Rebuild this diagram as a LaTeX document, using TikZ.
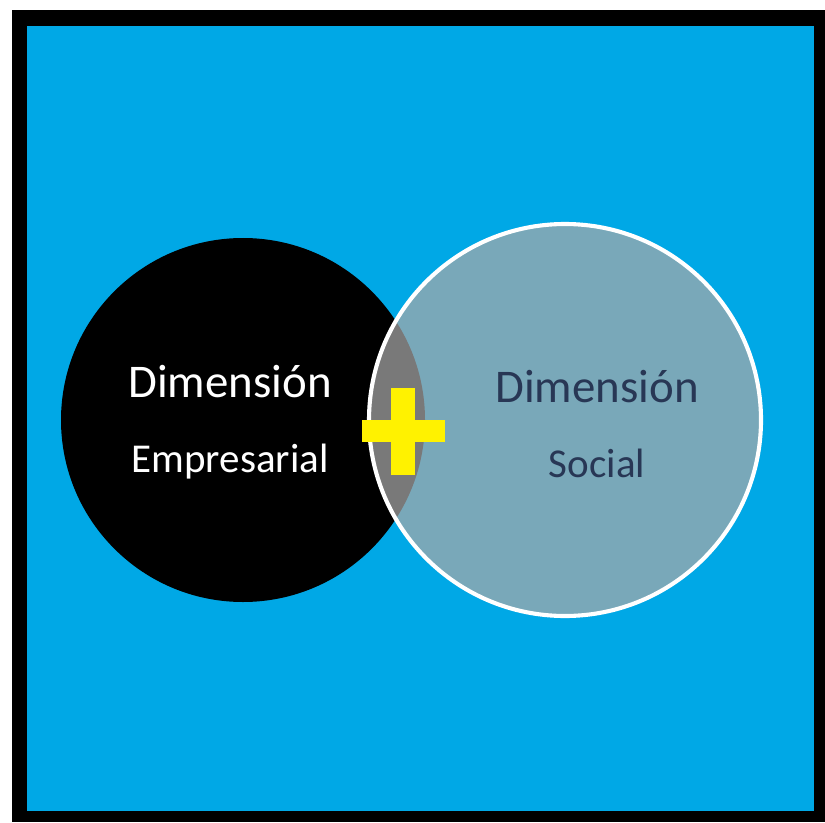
\documentclass[tikz,border=0pt]{standalone}
\usepackage{fontspec}
\setmainfont{Carlito}
\usepackage{xcolor}
\usetikzlibrary{positioning}

\definecolor{skyblue}{RGB}{0,168,230}
\definecolor{socialgrey}{RGB}{168,168,168}
\definecolor{navytext}{RGB}{40,55,85}

\begin{document}
\begin{tikzpicture}[
  x=0.03cm, y=-0.03cm,
  dimcircle/.style={circle, inner sep=0pt},
  dimtext/.style={align=center, inner sep=0pt, font=\fontsize{35}{60}\selectfont},
  plusbar/.style={fill=yellow, draw=none}
  ]
  \useasboundingbox (0,0) rectangle (825,822);
  % frame and background
  \fill[white] (0,0) rectangle (825,822);
  \fill[black] (12,10) rectangle (825,822);
  \fill[skyblue] (27,26) rectangle (814,811);
  % the two dimensions
  \node[dimcircle, fill=black, minimum size=364*0.03cm] (empresa) at (243,420) {};
  \node[dimcircle, fill=socialgrey, fill opacity=0.72, draw=white, line width=3.5pt,
        minimum size=392*0.03cm] (social) at (565,420) {};
  \node[dimtext, text=white] (empresaText) at (230,422)
    {{\fontsize{40}{40}\selectfont Dimensión}\\[4pt] Empresarial};
  \node[dimtext, text=navytext] (socialText) at (597,424)
    {{\fontsize{40}{40}\selectfont Dimensión}\\[4pt] Social};
  % plus sign
  \coordinate (plus) at (403,431);
  \fill[plusbar] ([xshift=-41*0.03cm, yshift=11*0.03cm]plus) rectangle ([xshift=42*0.03cm, yshift=-11*0.03cm]plus);
  \fill[plusbar] ([xshift=-12*0.03cm, yshift=43*0.03cm]plus) rectangle ([xshift=12*0.03cm, yshift=-44*0.03cm]plus);
\end{tikzpicture}
\end{document}
